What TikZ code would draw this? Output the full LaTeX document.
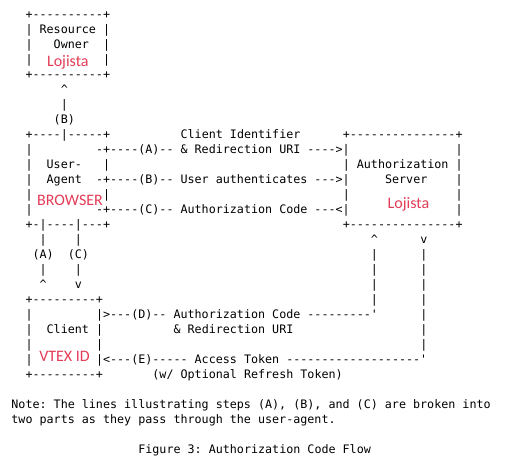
\documentclass[tikz,border=0pt]{standalone}
\usepackage{fontspec}
\setmonofont{DejaVu Sans Mono}
\newfontfamily\tagfont{Carlito}
\usetikzlibrary{positioning}
\definecolor{tagred}{RGB}{226,60,86}
\tikzset{
    ascii/.style={anchor=base west,inner sep=0pt,outer sep=0pt,
        font=\ttfamily\fontsize{8.78pt}{11pt}\selectfont\frenchspacing},
    redtag/.style={anchor=base,inner sep=0pt,text=tagred,
        font=\tagfont\fontsize{12pt}{14pt}\selectfont}
}

\begin{document}
\begin{tikzpicture}[x=5.2875pt,y=-11.25pt]

                \useasboundingbox (1.3794,-1.2) rectangle (74.855,30);

                % resource owner
                \node[ascii] (owner top)   at (5,0)  {+----------+};
                \node[ascii] (owner row1)  at (5,1)  {| Resource |};
                \node[ascii] (owner l2)    at (5,2)  {|};
                \node[ascii] (owner name)  at (9,2)  {Owner};
                \node[ascii] (owner r2)    at (16,2) {|};
                \node[ascii] (owner l3)    at (5,3)  {|};
                \node[ascii] (owner r3)    at (16,3) {|};
                \node[ascii] (owner bot)   at (5,4)  {+----------+};
                \node[redtag] (owner tag)  at (11,3.2) {Lojista};

                \node[ascii] (b up)   at (10,5) {\textasciicircum};
                \node[ascii] (b bar)  at (10,6) {|};
                \node[ascii] (b lbl)  at (9,7)  {(B)};

                % user-agent
                \node[ascii] (ua top)  at (5,8)   {+----|-----+};
                \node[ascii] (ua l9)   at (5,9)   {|};
                \node[ascii] (ua l10)  at (5,10)  {|};
                \node[ascii] (ua user) at (8,10)  {User-};
                \node[ascii] (ua r10)  at (16,10) {|};
                \node[ascii] (ua l11)  at (5,11)  {|};
                \node[ascii] (ua agent) at (8,11) {Agent};
                \node[ascii] (ua l12)  at (5,12)  {|};
                \node[ascii] (ua r12)  at (16,12) {|};
                \node[ascii] (ua l13)  at (5,13)  {|};
                \node[ascii] (ua bot)  at (5,14)  {+-|----|---+};
                \node[redtag] (ua tag) at (11.31,12.47) {BROWSER};

                % steps A, B, C
                \node[ascii] (a head) at (27,8)  {Client Identifier};
                \node[ascii] (a line) at (15,9)  {-+----(A)-- \& Redirection URI ---->|};
                \node[ascii] (b line) at (15,11) {-+----(B)-- User authenticates --->|};
                \node[ascii] (c line) at (15,13) {-+----(C)-- Authorization Code ---<|};

                % authorization server
                \node[ascii] (as top)  at (50,8)  {+---------------+};
                \node[ascii] (as r9)   at (66,9)  {|};
                \node[ascii] (as row10) at (50,10) {| Authorization |};
                \node[ascii] (as srv)  at (56,11) {Server};
                \node[ascii] (as r11)  at (66,11) {|};
                \node[ascii] (as l12)  at (50,12) {|};
                \node[ascii] (as r12)  at (66,12) {|};
                \node[ascii] (as r13)  at (66,13) {|};
                \node[ascii] (as bot)  at (50,14) {+---------------+};
                \node[redtag] (as tag) at (59.32,12.73) {Lojista};

                % legs below the user-agent
                \node[ascii] (a bar1) at (7,15)  {|};
                \node[ascii] (c bar1) at (12,15) {|};
                \node[ascii] (a lbl)  at (6,16)  {(A)};
                \node[ascii] (c lbl)  at (11,16) {(C)};
                \node[ascii] (a bar2) at (7,17)  {|};
                \node[ascii] (c bar2) at (12,17) {|};
                \node[ascii] (a up)   at (7,18)  {\textasciicircum};
                \node[ascii] (c down) at (12,18) {v};

                % legs below the server
                \node[ascii] (d up)   at (54,15) {\textasciicircum};
                \node[ascii] (e down) at (61,15) {v};
                \foreach \r in {16,...,19} {
                    \node[ascii] (d bar \r) at (54,\r) {|};
                    \node[ascii] (e bar \r) at (61,\r) {|};
                }
                \foreach \r in {20,...,22}
                    \node[ascii] (e bar \r) at (61,\r) {|};

                % client
                \node[ascii] (cl top)  at (5,19)  {+---------+};
                \node[ascii] (cl l20)  at (5,20)  {|};
                \node[ascii] (cl row21) at (5,21) {|};
                \node[ascii] (cl name) at (8,21)  {Client |};
                \node[ascii] (cl l22)  at (5,22)  {|};
                \node[ascii] (cl r22)  at (15,22) {|};
                \node[ascii] (cl l23)  at (5,23)  {|};
                \node[ascii] (cl bot)  at (5,24)  {+---------+};
                \node[redtag] (cl tag) at (10.53,22.93) {VTEX ID};

                % steps D, E
                \node[ascii] (d line) at (15,20) {|>---(D)-- Authorization Code ---------'};
                \node[ascii] (d sub)  at (26,21) {\& Redirection URI};
                \node[ascii] (e line) at (15,23) {|<---(E)----- Access Token -------------------'};
                \node[ascii] (e sub)  at (23,24) {(w/ Optional Refresh Token)};

                % note and caption
                \node[ascii] (note1)   at (3,26)  {Note: The lines illustrating steps (A), (B), and (C) are broken into};
                \node[ascii] (note2)   at (3,27)  {two parts as they pass through the user-agent.};
                \node[ascii] (caption) at (21,29) {Figure 3: Authorization Code Flow};

            \end{tikzpicture}
\end{document}
